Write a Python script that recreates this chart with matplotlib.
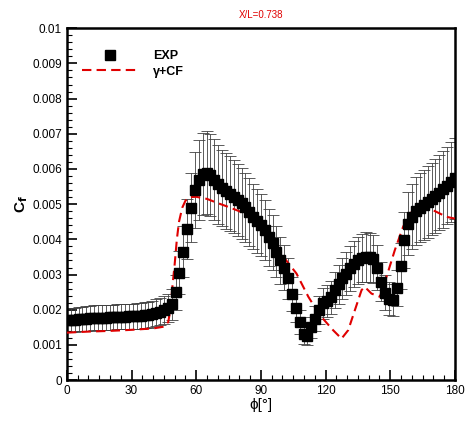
import matplotlib
matplotlib.use("Agg")
import matplotlib.pyplot as plt
from matplotlib.ticker import MultipleLocator, FuncFormatter
from matplotlib.lines import Line2D

plt.rcParams['font.family'] = ['Liberation Sans', 'DejaVu Sans']

# Experimental Cf versus azimuthal angle phi (deg)
phi_exp = [0, 1.8, 3.6, 5.4, 7.2, 9, 10.8, 12.6, 14.4, 16.2, 18, 19.8, 21.6, 23.4,
           25.2, 27, 28.8, 30.6, 32.4, 34.2, 36, 37.8, 39.6, 41.4, 43.2, 45, 46.8,
           48.6, 50.4, 52.2, 54, 55.8, 57.6, 59.4, 61.2, 63, 64.8, 66.6, 68.4, 70.2,
           72, 73.8, 75.6, 77.4, 79.2, 81, 82.8, 84.6, 86.4, 88.2, 90, 91.8, 93.6,
           95.4, 97.2, 99, 100.8, 102.6, 104.4, 106.2, 108, 109.8, 111.6, 113.4,
           115.2, 117, 118.8, 120.6, 122.4, 124.2, 126, 127.8, 129.6, 131.4, 133.2,
           135, 136.8, 138.6, 140.4, 142.2, 144, 145.8, 147.6, 149.4, 151.2, 153,
           154.8, 156.6, 158.4, 160.2, 162, 163.8, 165.6, 167.4, 169.2, 171, 172.8,
           174.6, 176.4, 178.2, 180]
cf_exp = [0.00170, 0.00171, 0.00172, 0.00173, 0.00174, 0.00175, 0.00176, 0.00177,
          0.00177, 0.00178, 0.00178, 0.00179, 0.00179, 0.00180, 0.00180, 0.00180,
          0.00181, 0.00181, 0.00182, 0.00183, 0.00184, 0.00186, 0.00188, 0.00191,
          0.00195, 0.00199, 0.00205, 0.00215, 0.00250, 0.00305, 0.00365, 0.00430,
          0.00490, 0.00540, 0.00568, 0.00585, 0.00590, 0.00582, 0.00570, 0.00556,
          0.00546, 0.00538, 0.00530, 0.00521, 0.00512, 0.00502, 0.00491, 0.00478,
          0.00465, 0.00452, 0.00440, 0.00426, 0.00406, 0.00390, 0.00365, 0.00340,
          0.00320, 0.00290, 0.00245, 0.00205, 0.00165, 0.00130, 0.00125, 0.00150,
          0.00175, 0.00200, 0.00218, 0.00225, 0.00235, 0.00255, 0.00272, 0.00290,
          0.00303, 0.00318, 0.00330, 0.00340, 0.00347, 0.00350, 0.00349, 0.00344,
          0.00320, 0.00280, 0.00248, 0.00232, 0.00228, 0.00262, 0.00325, 0.00398,
          0.00445, 0.00465, 0.00480, 0.00490, 0.00498, 0.00506, 0.00515, 0.00524,
          0.00532, 0.00542, 0.00553, 0.00563, 0.00573]
rel_err = 0.2  # relative measurement uncertainty

# gamma+CF simulation
phi_sim = [0, 10, 20, 30, 40, 45, 47, 48, 49, 50, 51, 52, 53.5, 55, 57, 60, 65, 70,
           75, 80, 85, 90, 95, 101, 106.5, 112, 117.3, 123.5, 127.4, 130.5, 133.6,
           136.7, 138.2, 141.3, 145.2, 148.3, 152.1, 156, 159, 162.2, 166.8, 171.5,
           176.1, 180]
cf_sim = [0.00135, 0.00138, 0.00140, 0.00143, 0.00147, 0.00152, 0.00165, 0.00200,
          0.00270, 0.00330, 0.00400, 0.00450, 0.00490, 0.00510, 0.00520, 0.00521,
          0.00515, 0.00503, 0.00492, 0.00480, 0.00462, 0.00445, 0.00410, 0.00346,
          0.00303, 0.00237, 0.00185, 0.00142, 0.00118, 0.00142, 0.00199, 0.00256,
          0.00265, 0.00246, 0.00237, 0.00294, 0.00369, 0.00436, 0.00473, 0.00488,
          0.00492, 0.00478, 0.00464, 0.00459]

fig = plt.figure(figsize=(4.68, 4.21), dpi=100)
ax = fig.add_axes([0.143, 0.097, 0.829, 0.836])

err = [c * rel_err for c in cf_exp]
ax.errorbar(phi_exp, cf_exp, yerr=err, fmt='none', ecolor='0.25',
            elinewidth=0.6, capsize=4, capthick=0.6, zorder=2)
ax.plot(phi_sim, cf_sim, color='#e00000', lw=1.5, dashes=(4.5, 2.5), zorder=3)
ax.plot(phi_exp, cf_exp, 's', color='black', ms=7, zorder=4)

ax.set_xlim(0, 180)
ax.set_ylim(0, 0.01)
ax.xaxis.set_major_locator(MultipleLocator(30))
ax.xaxis.set_minor_locator(MultipleLocator(5))
ax.yaxis.set_major_locator(MultipleLocator(0.001))
ax.yaxis.set_minor_locator(MultipleLocator(0.0002))
ax.yaxis.set_major_formatter(FuncFormatter(lambda v, p: '%g' % round(v, 4)))
ax.tick_params(which='both', direction='in', top=False, right=False, labelsize=8.5)
ax.tick_params(which='major', length=7, width=1.2)
ax.tick_params(which='minor', length=3.5, width=0.8)
for s in ax.spines.values():
    s.set_linewidth(1.8)

ax.set_xlabel('ϕ[°]', fontsize=11, labelpad=1)
ax.set_ylabel('C$_\\mathbf{f}$', fontsize=11, fontweight='bold', labelpad=2)
ax.set_title('X/L=0.738', color='#e00000', fontsize=7, pad=7)

handles = [Line2D([], [], marker='s', color='black', ls='none', ms=7),
           Line2D([], [], color='#e00000', lw=1.5, dashes=(4.5, 2.5))]
ax.legend(handles, ['EXP', 'γ+CF'], loc='upper left', bbox_to_anchor=(0.01, 0.97),
          frameon=False, handlelength=4.4, handletextpad=1.3, labelspacing=0.3,
          prop={'weight': 'bold', 'size': 9})

fig.savefig('out.png', dpi=100)
